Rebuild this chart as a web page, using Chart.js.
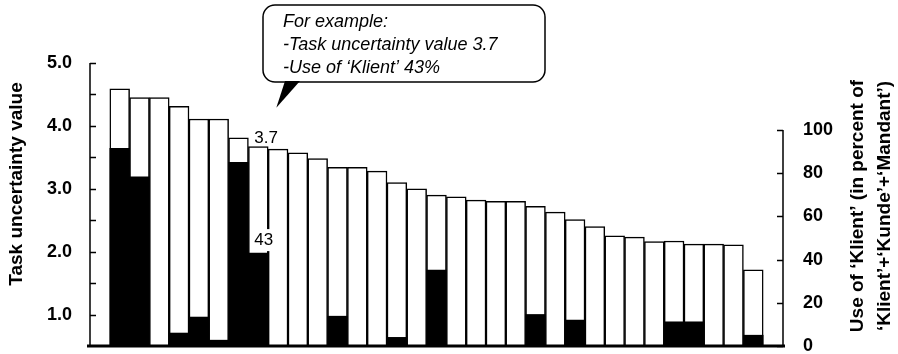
<!DOCTYPE html>
<html>
<head>
<meta charset="utf-8">
<title>Task uncertainty and use of 'Klient'</title>
<script src="https://cdn.jsdelivr.net/npm/chart.js@4.4.1/dist/chart.umd.min.js"></script>
<style>
    html, body { margin: 0; padding: 0; background: #fff; }
    #wrap { width: 898px; height: 354px; position: relative; }
</style>
</head>
<body>
<div id="wrap"><canvas id="task-chart" width="898" height="354"></canvas></div>
<script>
// Tasks, sorted by task uncertainty value (no names in the original figure)
const tasks = ['T1', 'T2', 'T3', 'T4', 'T5', 'T6', 'T7', 'T8', 'T9', 'T10', 'T11',
    'T12', 'T13', 'T14', 'T15', 'T16', 'T17', 'T18', 'T19', 'T20', 'T21', 'T22',
    'T23', 'T24', 'T25', 'T26', 'T27', 'T28', 'T29', 'T30', 'T31', 'T32', 'T33'];

// white bars, left axis
const taskUncertainty = [4.59, 4.45, 4.45, 4.31, 4.11, 4.11, 3.81, 3.67, 3.63, 3.57, 3.48,
    3.34, 3.34, 3.28, 3.10, 3.00, 2.90, 2.87, 2.82, 2.80, 2.80, 2.72,
    2.63, 2.51, 2.40, 2.25, 2.23, 2.16, 2.17, 2.12, 2.12, 2.11, 1.71];

// black bars, right axis (% 'Klient' of 'Klient'+'Kunde'+'Mandant')
const klientShare = [91.5, 78.3, 0, 6, 13.4, 2.7, 85, 43, 0, 0, 0,
    13.8, 0, 0, 4, 0, 35.1, 0, 0, 0, 0, 14.6,
    0, 12, 0, 0, 0, 0, 11.2, 11.2, 0, 0, 5];

const leftTicks = [1, 2, 3, 4, 5];
const leftMinorTicks = [1, 1.5, 2, 2.5, 3, 3.5, 4, 4.5, 5];
const rightTicks = [0, 20, 40, 60, 80, 100];

const leftTitle = 'Task uncertainty value';
const rightTitle = ['Use of \u2018Klient\u2019 (in percent of', '\u2018Klient\u2019+\u2018Kunde\u2019+\u2018Mandant\u2019)'];
const calloutLines = ['For example:', '-Task uncertainty value 3.7', '-Use of \u2018Klient\u2019 43%'];
const exampleIndex = 7; // the task the callout talks about

const FONT = "'Liberation Sans', Arial, sans-serif";

// one empty slot each side, like the gaps in the original
const pad = arr => [null, ...arr, null];

const decorPlugin = {
    id: 'decor',
    afterDatasetsDraw(chart) {
        const { ctx, chartArea: a, scales } = chart;
        const yL = scales.y;
        const yR = scales.y1;
        ctx.save();
        ctx.strokeStyle = '#000';
        ctx.fillStyle = '#000';

        // left axis + inside ticks
        ctx.lineWidth = 1.5;
        ctx.beginPath();
        ctx.moveTo(a.left, yL.getPixelForValue(5));
        ctx.lineTo(a.left, a.bottom);
        leftMinorTicks.forEach(v => {
            const py = Math.round(yL.getPixelForValue(v)) + 0.5;
            ctx.moveTo(a.left, py);
            ctx.lineTo(a.left + 6, py);
        });
        // right axis, only 0..100
        ctx.moveTo(a.right, yR.getPixelForValue(100));
        ctx.lineTo(a.right, a.bottom);
        rightTicks.forEach(v => {
            const py = Math.round(yR.getPixelForValue(v)) + 0.5;
            ctx.moveTo(a.right, py);
            ctx.lineTo(a.right - 6, py);
        });
        ctx.stroke();

        // base line
        ctx.lineWidth = 3;
        ctx.beginPath();
        ctx.moveTo(a.left - 3, a.bottom);
        ctx.lineTo(a.right + 2, a.bottom);
        ctx.stroke();

        // axis titles
        ctx.font = `bold 19px ${FONT}`;
        ctx.textAlign = 'center';
        ctx.textBaseline = 'middle';
        ctx.save();
        ctx.translate(17, 184);
        ctx.rotate(-Math.PI / 2);
        ctx.fillText(leftTitle, 0, 0);
        ctx.restore();
        ctx.save();
        ctx.translate(858, 206);
        ctx.rotate(-Math.PI / 2);
        ctx.fillText(rightTitle[0], 0, 0);
        ctx.fillText(rightTitle[1], 0, 27);
        ctx.restore();

        // value labels on the example task
        const white = chart.getDatasetMeta(1).data[exampleIndex + 1];
        const black = chart.getDatasetMeta(0).data[exampleIndex + 1];
        ctx.font = `17px ${FONT}`;
        ctx.textAlign = 'left';
        ctx.textBaseline = 'alphabetic';
        ctx.fillText(taskUncertainty[exampleIndex].toFixed(1), white.x - 4, white.y - 4);
        const pctTxt = String(Math.round(klientShare[exampleIndex]));
        const w = ctx.measureText(pctTxt).width;
        ctx.fillStyle = '#fff';
        ctx.fillRect(white.x - 5, black.y - 24, w + 2, 22);
        ctx.fillStyle = '#000';
        ctx.fillText(pctTxt, white.x - 4, black.y - 8);

        // callout box
        ctx.lineWidth = 1.5;
        ctx.beginPath();
        ctx.roundRect(263, 5, 282, 77, 12);
        ctx.fillStyle = '#fff';
        ctx.fill();
        ctx.stroke();
        ctx.fillStyle = '#000';
        ctx.beginPath();
        ctx.moveTo(285, 81);
        ctx.lineTo(300, 81);
        ctx.lineTo(white.x + 18, white.y - 39);
        ctx.closePath();
        ctx.fill();
        ctx.font = `italic 18px ${FONT}`;
        calloutLines.forEach((line, i) => ctx.fillText(line, 283, 27 + i * 23));

        ctx.restore();
    }
};

// fixed axis widths, and no extra room for the end labels
function fitAxis(width) {
    return s => {
        s.width = width;
        s.paddingTop = 0;
        s.paddingBottom = 0;
    };
}

const ctx = document.getElementById('task-chart');

new Chart(ctx, {
    type: 'bar',
    data: {
        labels: pad(tasks),
        datasets: [
            {
                label: 'Use of Klient (%)',
                data: pad(klientShare),
                yAxisID: 'y1',
                backgroundColor: '#000',
                borderWidth: 0,
                order: 0
            },
            {
                label: 'Task uncertainty value',
                data: pad(taskUncertainty),
                yAxisID: 'y',
                backgroundColor: '#fff',
                borderColor: '#000',
                borderWidth: 1.5,
                order: 1
            }
        ]
    },
    options: {
        responsive: false,
        animation: false,
        devicePixelRatio: 1,
        grouped: false,
        categoryPercentage: 1,
        barPercentage: 1,
        layout: { padding: { top: 63, bottom: 8, left: 0, right: 0 } },
        plugins: {
            legend: { display: false },
            tooltip: { enabled: false }
        },
        scales: {
            x: { display: false },
            y: {
                position: 'left',
                min: 0.5,
                max: 5,
                afterBuildTicks: s => { s.ticks = leftTicks.map(v => ({ value: v })); },
                afterFit: fitAxis(90),
                grid: { display: false, drawTicks: false },
                border: { display: false },
                ticks: {
                    padding: 18,
                    color: '#000',
                    font: { family: FONT, size: 18, weight: 'bold' },
                    callback: v => Number(v).toFixed(1)
                }
            },
            y1: {
                position: 'right',
                min: 0,
                max: 131,
                afterBuildTicks: s => { s.ticks = rightTicks.map(v => ({ value: v })); },
                afterFit: fitAxis(115),
                grid: { display: false, drawTicks: false },
                border: { display: false },
                ticks: {
                    padding: 20,
                    color: '#000',
                    font: { family: FONT, size: 18, weight: 'bold' }
                }
            }
        }
    },
    plugins: [decorPlugin]
});
</script>
</body>
</html>
